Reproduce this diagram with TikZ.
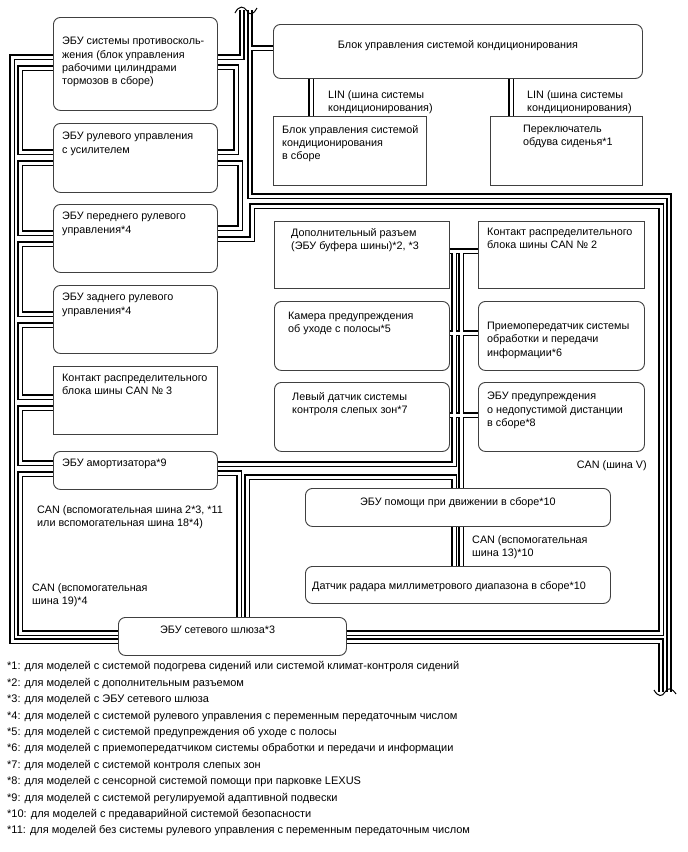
\documentclass[tikz,border=0pt]{standalone}
\usepackage{fontspec}
\setmainfont{Liberation Sans}
\usetikzlibrary{backgrounds}

% bus links, drawn in black and then hollowed out in white
\newcommand\drawbuses[1]{%
  \draw[#1]
    (abs.east |- 0,57) -| (topin)
    (topout) |- (botout |- 0,196) -- (botout)
    (topout |- 0,48) -- (ac.west |- 0,48)
    (abs.east |- 0,67) -| (236,152) -- (eps.east |- 0,152)
    (eps.east |- 0,163) -| (240,228) -- (front.east |- 0,228)
    (front.east |- 0,239) -| (252,206) -| (661,633) -- (gw.east |- 0,633)
    (gw.east |- 0,641) -| (botin)
    (abs.west |- 0,57) -| (12,641) -- (gw.west |- 0,641)
    (abs.west |- 0,68) -| (20,152) -- (eps.west |- 0,152)
    (eps.west |- 0,163) -| (20,233) -- (front.west |- 0,233)
    (front.west |- 0,244) -| (20,314) -- (rear.west |- 0,314)
    (rear.west |- 0,325) -| (20,397) -- (j3.west |- 0,397)
    (j3.west |- 0,408) -| (20,463) -- (shock.west |- 0,463)
    (shock.west |- 0,474) -| (20,633) -- (gw.west |- 0,633)
    (shock.east |- 0,473) -| (gw.north -| 239,0)
    (gw.north -| 247,0) |- (454,477) -- (drv.north -| 454,0)
    (shock.east |- 0,464) -| (454,251)
    (461,251) -- (drv.north -| 461,0)
    (dop.east |- 0,251) -- (can2.west |- 0,251)
    (cam.east |- 0,333) -- (tx.west |- 0,333)
    (bsm.east |- 0,415) -- (dist.west |- 0,415)
    (drv.south -| 454,0) -- (rad.north -| 454,0)
    (drv.south -| 461,0) -- (rad.north -| 461,0)
    (ac.south -| 311,0) -- (acs.north -| 311,0)
    (ac.south -| 511,0) -- (sw.north -| 511,0);
}

\begin{document}
\begin{tikzpicture}[x=1pt, y=-1pt,
  font=\fontsize{10.8pt}{13.3pt}\selectfont,
  ecu/.style={draw=black!75, line width=0.9pt, fill=white, rounded corners=7pt, anchor=north west, inner sep=0pt},
  sqbox/.style={ecu, sharp corners},
  txt/.style={anchor=north west, align=left, inner sep=0pt},
  ctxt/.style={anchor=north, align=center, inner sep=0pt},
  buslbl/.style={anchor=north west, align=left, inner sep=0pt},
  note/.style={anchor=west, inner sep=0pt, font=\fontsize{11pt}{13pt}\selectfont},
  busout/.style={line width=5.4pt, black},
  busin/.style={line width=2.2pt, white},
  wave/.style={line width=1pt}
]
  \useasboundingbox (0,0) rectangle (688,852);

  % left column
  \node[ecu, minimum width=164pt, minimum height=93pt,
    label={[txt, xshift=9pt, yshift=-20pt]north west:{ЭБУ системы противосколь-\\жения (блок управления\\рабочими цилиндрами\\тормозов в сборе)}}] (abs) at (53,17) {};
  \node[ecu, minimum width=164pt, minimum height=69pt,
    label={[txt, xshift=9pt, yshift=-9pt]north west:{ЭБУ рулевого управления\\с усилителем}}] (eps) at (53,123) {};
  \node[ecu, minimum width=164pt, minimum height=68pt,
    label={[txt, xshift=9pt, yshift=-8pt]north west:{ЭБУ переднего рулевого\\управления*4}}] (front) at (53,204) {};
  \node[ecu, minimum width=164pt, minimum height=68pt,
    label={[txt, xshift=9pt, yshift=-8pt]north west:{ЭБУ заднего рулевого\\управления*4}}] (rear) at (53,285) {};
  \node[sqbox, minimum width=164pt, minimum height=68pt,
    label={[txt, xshift=9pt, yshift=-8pt]north west:{Контакт распределительного\\блока шины CAN № 3}}] (j3) at (53,366) {};
  \node[ecu, minimum width=164pt, minimum height=38pt,
    label={[txt, xshift=9pt, yshift=-8pt]north west:{ЭБУ амортизатора*9}}] (shock) at (53,451) {};
  \node[ecu, minimum width=228pt, minimum height=38pt,
    label={[txt, xshift=42pt, yshift=-9pt]north west:{ЭБУ сетевого шлюза*3}}] (gw) at (118,617) {};

  % air conditioning
  \node[ecu, minimum width=369pt, minimum height=54pt,
    label={[ctxt, yshift=-16pt]north:{Блок управления системой кондиционирования}}] (ac) at (273,24) {};
  \node[sqbox, minimum width=153pt, minimum height=69pt,
    label={[txt, xshift=9pt, yshift=-9pt]north west:{Блок управления системой\\кондиционирования\\в сборе}}] (acs) at (273,116) {};
  \node[sqbox, minimum width=152pt, minimum height=69pt,
    label={[txt, xshift=33pt, yshift=-9pt]north west:{Переключатель\\обдува сиденья*1}}] (sw) at (490,116) {};
  \node[buslbl] (lin1) at (328,90) {LIN (шина системы\\кондиционирования)};
  \node[buslbl] (lin2) at (527,90) {LIN (шина системы\\кондиционирования)};

  % bus V
  \node[sqbox, minimum width=175pt, minimum height=67pt,
    label={[txt, xshift=17pt, yshift=-7pt]north west:{Дополнительный разъем\\(ЭБУ буфера шины)*2, *3}}] (dop) at (274,221) {};
  \node[sqbox, minimum width=166pt, minimum height=67pt,
    label={[txt, xshift=9pt, yshift=-7pt]north west:{Контакт распределительного\\блока шины CAN № 2}}] (can2) at (478,221) {};
  \node[ecu, minimum width=175pt, minimum height=69pt,
    label={[txt, xshift=14pt, yshift=-11pt]north west:{Камера предупреждения\\об уходе с полосы*5}}] (cam) at (274,301) {};
  \node[ecu, minimum width=166pt, minimum height=69pt,
    label={[txt, xshift=9pt, yshift=-21pt]north west:{Приемопередатчик системы\\обработки и передачи\\информации*6}}] (tx) at (478,301) {};
  \node[ecu, minimum width=175pt, minimum height=69pt,
    label={[txt, xshift=18pt, yshift=-10pt]north west:{Левый датчик системы\\контроля слепых зон*7}}] (bsm) at (274,382) {};
  \node[ecu, minimum width=166pt, minimum height=69pt,
    label={[txt, xshift=9pt, yshift=-10pt]north west:{ЭБУ предупреждения\\о недопустимой дистанции\\в сборе*8}}] (dist) at (478,382) {};
  \node[anchor=north east, inner sep=0pt] (canv) at (647,460) {CAN (шина V)};

  % driving support
  \node[ecu, minimum width=305pt, minimum height=38pt,
    label={[ctxt, yshift=-9pt]north:{ЭБУ помощи при движении в сборе*10}}] (drv) at (305,488) {};
  \node[ecu, minimum width=305pt, minimum height=37pt,
    label={[txt, xshift=7pt, yshift=-15pt]north west:{Датчик радара миллиметрового диапазона в сборе*10}}] (rad) at (305,566) {};
  \node[buslbl] (sub13) at (472,535) {CAN (вспомогательная\\шина 13)*10};

  \node[buslbl] (sub2) at (37,505) {CAN (вспомогательная шина 2*3, *11\\или вспомогательная шина 18*4)};
  \node[buslbl] (sub19) at (32,583) {CAN (вспомогательная\\шина 19)*4};

  % free ends of the main bus
  \coordinate (topin) at (242,10);
  \coordinate (topout) at (250,10);
  \coordinate (botin) at (661,692);
  \coordinate (botout) at (669,692);
  \draw[wave] (235,13) .. controls (239,5) and (244,6) .. (247,11) .. controls (250,16) and (254,14) .. (257,8);
  \draw[wave] (654,690) .. controls (658,697) and (662,697) .. (665,692) .. controls (668,687) and (672,688) .. (676,694);

  \begin{scope}[on background layer]
    \fill[white] (0,0) rectangle (688,852);
    \drawbuses{busout}
    \drawbuses{busout, xshift=-0.8pt, yshift=0.8pt}
    \drawbuses{busin, xshift=0.5pt, yshift=-0.5pt}
  \end{scope}

  % notes
  \foreach \t [count=\i] in {
    {*1: для моделей с системой подогрева сидений или системой климат-контроля сидений},
    {*2: для моделей с дополнительным разъемом},
    {*3: для моделей с ЭБУ сетевого шлюза},
    {*4: для моделей с системой рулевого управления с переменным передаточным числом},
    {*5: для моделей с системой предупреждения об уходе с полосы},
    {*6: для моделей с приемопередатчиком системы обработки и передачи и информации},
    {*7: для моделей с системой контроля слепых зон},
    {*8: для моделей с сенсорной системой помощи при парковке LEXUS},
    {*9: для моделей с системой регулируемой адаптивной подвески},
    {*10: для моделей с предаварийной системой безопасности},
    {*11: для моделей без системы рулевого управления с переменным передаточным числом}}
    \node[note] (fn\i) at (7,650.6+16.4*\i) {\t};
\end{tikzpicture}
\end{document}
